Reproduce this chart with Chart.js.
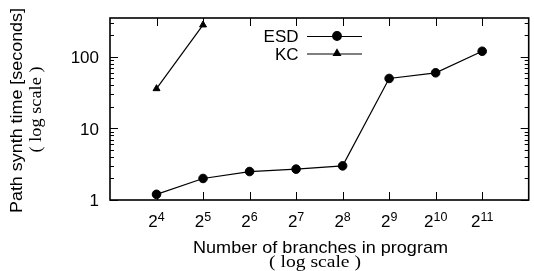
<!DOCTYPE html>
<html>
<head>
<meta charset="utf-8">
<script src="https://cdn.jsdelivr.net/npm/chart.js@4/dist/chart.umd.min.js"></script>
<style>
  html, body { margin: 0; background: #fff; }
  #wrap { width: 534px; height: 271px; }
</style>
</head>
<body>
<div id="wrap"><canvas id="chart"></canvas></div>
<script>
// --- data ---
const exponents = [4, 5, 6, 7, 8, 9, 10, 11];
const esdTimes = [1.2, 2, 2.5, 2.7, 3, 50, 60, 120];
const kcExponents = [4, 5];
const kcTimes = [36, 280];
const yMajorTicks = [1, 10, 100];
const yMinorTicks = [2, 3, 4, 5, 6, 7, 8, 9, 20, 30, 40, 50, 60, 70, 80, 90, 200, 300];
const seriesNames = ['ESD', 'KC'];

const SANS = '"Liberation Sans", Arial, sans-serif';
const SERIF = '"Liberation Serif", "Times New Roman", serif';

// draw centred text squeezed/stretched to a given width
function fitText(ctx, text, cx, cy, font, width) {
  ctx.save();
  ctx.font = font;
  const w = ctx.measureText(text).width;
  ctx.translate(cx, cy);
  ctx.scale(width / w, 1);
  ctx.textAlign = 'center';
  ctx.fillText(text, 0, 0);
  ctx.restore();
}

// gnuplot-like frame, inward ticks, labels, titles and key
const gnuplotDecor = {
  id: 'gnuplotDecor',
  afterDraw(chart) {
    const { ctx, chartArea: a, scales: { x, y } } = chart;
    ctx.save();
    ctx.strokeStyle = '#000';
    ctx.fillStyle = '#000';

    // ticks
    ctx.lineWidth = 1;
    ctx.beginPath();
    exponents.forEach(e => {
      const px = Math.round(x.getPixelForValue(e)) + 0.5;
      ctx.moveTo(px, a.bottom); ctx.lineTo(px, a.bottom - 8);
      ctx.moveTo(px, a.top); ctx.lineTo(px, a.top + 8);
    });
    yMajorTicks.forEach(v => {
      const py = Math.round(y.getPixelForValue(v)) + 0.5;
      ctx.moveTo(a.left, py); ctx.lineTo(a.left + 8, py);
      ctx.moveTo(a.right, py); ctx.lineTo(a.right - 8, py);
    });
    yMinorTicks.forEach(v => {
      const py = Math.round(y.getPixelForValue(v)) + 0.5;
      ctx.moveTo(a.left, py); ctx.lineTo(a.left + 4, py);
      ctx.moveTo(a.right, py); ctx.lineTo(a.right - 4, py);
    });
    ctx.stroke();

    // frame
    ctx.lineWidth = 1.6;
    ctx.strokeRect(a.left, a.top, a.right - a.left, a.bottom - a.top);

    // y tick labels
    ctx.font = '17px ' + SANS;
    ctx.textAlign = 'right';
    ctx.textBaseline = 'middle';
    yMajorTicks.forEach(v => {
      ctx.fillText(String(v), a.left - 11, y.getPixelForValue(v) + 1.5);
    });

    // x tick labels 2^n
    ctx.textBaseline = 'alphabetic';
    ctx.textAlign = 'left';
    exponents.forEach(e => {
      const px = x.getPixelForValue(e);
      ctx.font = '17px ' + SANS;
      const wb = ctx.measureText('2').width;
      ctx.font = '12.5px ' + SANS;
      const we = ctx.measureText(String(e)).width;
      const left = px - (wb + we) / 2;
      ctx.font = '17px ' + SANS;
      ctx.fillText('2', left, 227);
      ctx.font = '12.5px ' + SANS;
      ctx.fillText(String(e), left + wb, 220.5);
    });

    // axis titles
    ctx.textBaseline = 'alphabetic';
    fitText(ctx, 'Number of branches in program', 320.5, 253, '17px ' + SANS, 255);
    fitText(ctx, '( log scale )', 315, 267, '16.5px ' + SERIF, 92);

    ctx.save();
    ctx.translate(22, 110.5);
    ctx.rotate(-Math.PI / 2);
    fitText(ctx, 'Path synth time [seconds]', 0, 0, '17px ' + SANS, 205);
    ctx.restore();
    ctx.save();
    ctx.translate(41, 109.5);
    ctx.rotate(-Math.PI / 2);
    fitText(ctx, '( log scale )', 0, 0, '16.5px ' + SERIF, 86);
    ctx.restore();

    // key
    ctx.font = '17px ' + SANS;
    ctx.textAlign = 'right';
    ctx.textBaseline = 'middle';
    chart.data.datasets.forEach((ds, i) => {
      const ky = 36 + i * 17.5;
      ctx.fillText(ds.label, 298.5, ky + 1.5);
      ctx.lineWidth = 1.2;
      ctx.beginPath();
      ctx.moveTo(307, ky + 0.5); ctx.lineTo(362, ky + 0.5);
      ctx.stroke();
      Chart.helpers.drawPoint(ctx, {
        pointStyle: ds.pointStyle, radius: ds.pointRadius, rotation: 0, borderWidth: 1
      }, 337, ky);
    });
    ctx.restore();
  }
};

new Chart(document.getElementById('chart'), {
  type: 'scatter',
  data: {
    datasets: [
      {
        label: seriesNames[0],
        data: exponents.map((e, i) => ({ x: e, y: esdTimes[i] })),
        showLine: true,
        borderColor: '#000',
        backgroundColor: '#000',
        borderWidth: 1.2,
        pointStyle: 'circle',
        pointRadius: 4.3,
        pointBorderWidth: 1
      },
      {
        label: seriesNames[1],
        data: kcExponents.map((e, i) => ({ x: e, y: kcTimes[i] })),
        showLine: true,
        borderColor: '#000',
        backgroundColor: '#000',
        borderWidth: 1.2,
        pointStyle: 'triangle',
        pointRadius: 4,
        pointBorderWidth: 1
      }
    ]
  },
  options: {
    responsive: true,
    maintainAspectRatio: false,
    animation: false,
    clip: false,
    layout: { padding: { top: 18, right: 4, left: 0, bottom: 0 } },
    plugins: { legend: { display: false }, tooltip: { enabled: false } },
    scales: {
      x: {
        type: 'linear',
        min: 3,
        max: 12,
        grid: { display: false },
        border: { display: false },
        ticks: { display: false },
        afterFit: s => { s.height = 71; }
      },
      y: {
        type: 'logarithmic',
        min: 1,
        max: 350,
        grid: { display: false },
        border: { display: false },
        ticks: { display: false },
        afterFit: s => { s.width = 110; }
      }
    }
  },
  plugins: [gnuplotDecor]
});
</script>
</body>
</html>
